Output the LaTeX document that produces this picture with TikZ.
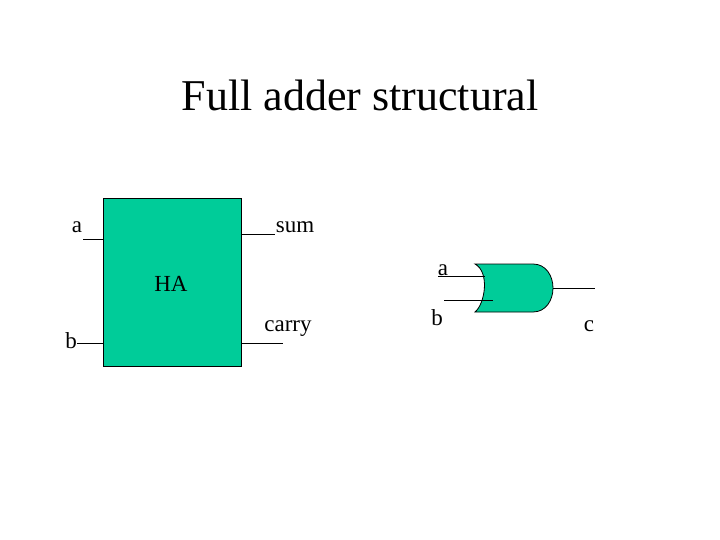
\documentclass[tikz,border=0pt]{standalone}
\usepackage{fontspec}
\setmainfont{Liberation Serif}
\definecolor{gatefill}{RGB}{0,204,153}
\begin{document}
\begin{tikzpicture}[x=1pt,y=-1pt,
  lbl/.style={font=\fontsize{23}{25}\selectfont,inner sep=0pt},
  wire/.style={draw=black,line width=0.8pt}]
\useasboundingbox (0,0) rectangle (720,540);
\node[font=\fontsize{44}{48}\selectfont] (title) at (360,95) {Full adder structural};
% HA block
\node[draw=black,fill=gatefill,minimum width=138pt,minimum height=168pt,inner sep=0pt,anchor=north west] (ha) at (103,198) {};
\node[lbl] (halbl) at (171,284) {HA};
\node[lbl] (la) at (77,227) {a};
\node[lbl] (lsum) at (295,227) {sum};
\node[lbl] (lb) at (71,341) {b};
\node[lbl] (lcarry) at (288,329) {carry};
\coordinate (ain) at (83,239); \coordinate (ain2) at (103,239);
\coordinate (sumo) at (241,234); \coordinate (sumo2) at (275,234);
\coordinate (bin) at (77,343); \coordinate (bin2) at (103,343);
\coordinate (co) at (241,343); \coordinate (co2) at (283,343);
\draw[wire] (ain) -- (ain2);
\draw[wire] (sumo) -- (sumo2);
\draw[wire] (bin) -- (bin2);
\draw[wire] (co) -- (co2);
% OR gate
\coordinate (gtl) at (475,264);
\coordinate (gbl) at (475,312);
\coordinate (gtr) at (533,264);
\coordinate (gbr) at (533,312);
\coordinate (gout) at (553,288);
\draw[fill=gatefill,draw=black,line width=0.8pt]
  (gtl) -- (gtr) .. controls (546,264) and (553,276) .. (gout)
  .. controls (553,300) and (546,312) .. (gbr) -- (gbl)
  .. controls (485,304) and (490,272) .. (gtl) -- cycle;
\coordinate (oa1) at (438,276); \coordinate (oa2) at (485,276);
\coordinate (ob1) at (444,300); \coordinate (ob2) at (493,300);
\coordinate (oc) at (595,288);
\draw[wire] (oa1) -- (oa2);
\draw[wire] (ob1) -- (ob2);
\draw[wire] (gout) -- (oc);
\node[lbl] (ga) at (443,270) {a};
\node[lbl] (gb) at (437,318) {b};
\node[lbl] (gc) at (589,326) {c};
\end{tikzpicture}
\end{document}
